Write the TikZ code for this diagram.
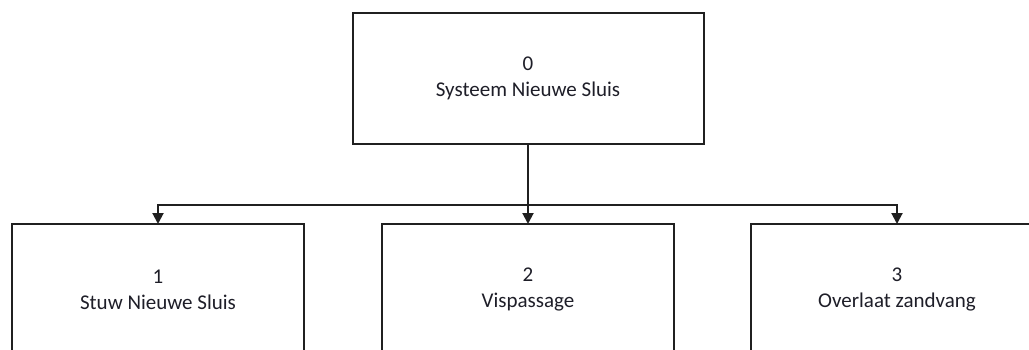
\documentclass[tikz,border=0pt]{standalone}
\usepackage{fontspec}
\setmainfont{Carlito}
\usetikzlibrary{arrows.meta}
\definecolor{linec}{HTML}{202020}
\definecolor{textc}{HTML}{1E1E28}
\begin{document}
\begin{tikzpicture}[x=1pt,y=-1pt,
  box/.style={draw=linec, line width=2pt, fill=white, align=center,
    text=textc, inner sep=0pt, outer sep=0pt,
    font=\fontsize{21}{26}\selectfont},
  conn/.style={draw=linec, line width=2pt},
  arr/.style={conn, -{Triangle[length=11pt,width=11pt]}}]
\useasboundingbox (0,0) rectangle (1029,349);
\clip (0,0) rectangle (1029,349);
\node[box, minimum width=351pt, minimum height=131pt] (n0) at (528,78.5) {0\\Systeem Nieuwe Sluis};
\node[box, minimum width=292pt, minimum height=131pt] (n1) at (158,289.5) {1\\Stuw Nieuwe Sluis};
\node[box, minimum width=292pt, minimum height=131pt] (n2) at (528,289.5) {2\\Vispassage};
\node[box, minimum width=292pt, minimum height=131pt] (n3) at (897,289.5) {3\\Overlaat zandvang};
\coordinate (bus) at (528,205);
\draw[conn] (n0.south) -- (bus);
\draw[arr] (bus) -| (n1.north);
\draw[arr] (bus) -- (n2.north);
\draw[arr] (bus) -| (n3.north);
\end{tikzpicture}
\end{document}
